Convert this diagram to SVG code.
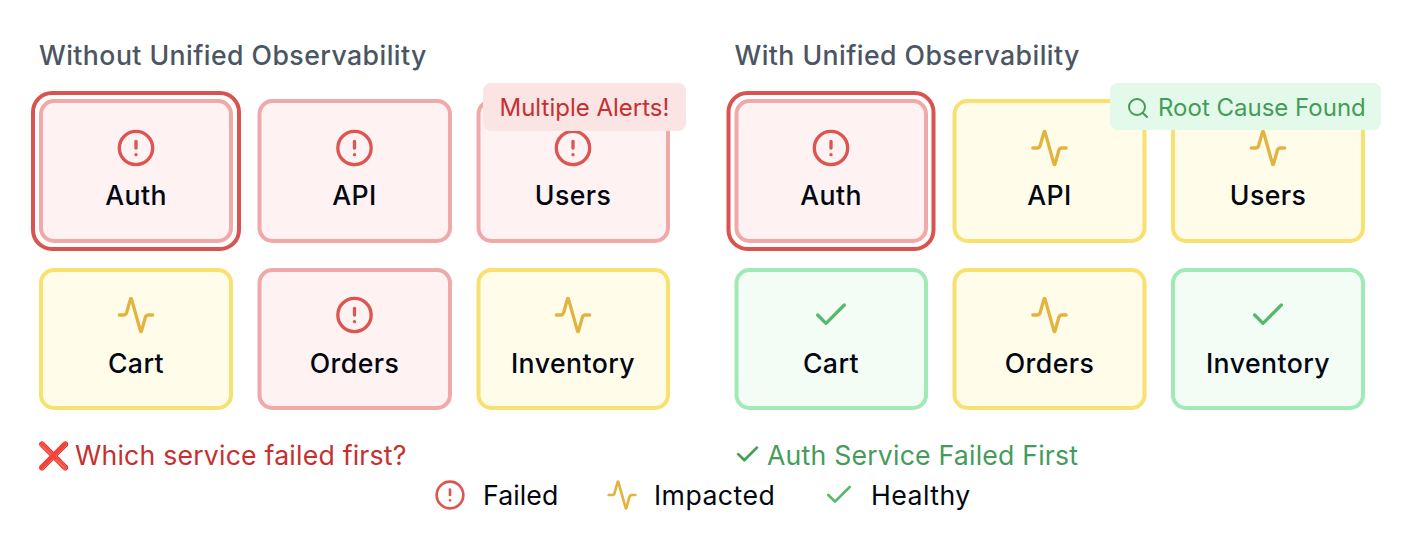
<svg xmlns="http://www.w3.org/2000/svg" width="1402" height="536" viewBox="0 0 1402 536">
<style>
text{font-family:Inter,"Liberation Sans",sans-serif}
.title{font-size:26.67px;font-weight:500;fill:#4b5563;letter-spacing:.44px}
.lbl{font-size:26.67px;font-weight:500;fill:#030712;text-anchor:middle;letter-spacing:.42px}
.leg{font-size:26.67px;font-weight:400;fill:#030712;letter-spacing:.45px}
.box{stroke-width:4}
.f{fill:#fef2f2;stroke:#efa9a9}
.i{fill:#fffdea;stroke:#f8e071}
.h{fill:#f3fdf6;stroke:#a0eab6}
.ring{fill:none;stroke:#d9534f;stroke-width:4}
.ic{fill:none;stroke-width:2;stroke-linecap:round;stroke-linejoin:round}
.ir{stroke:#dc5550}.iy{stroke:#e3b341}.ig{stroke:#56b96d}
.badge{font-size:24px}
.msg{font-size:26.67px;letter-spacing:.2px}
</style>
<defs>
<g id="alert"><circle r="10" class="ic ir"/><path class="ic ir" d="M0-4V0M0 4H.01"/></g>
<g id="act"><path class="ic iy" transform="translate(-12 -12)" d="M22 12h-2.48a2 2 0 0 0-1.93 1.46l-2.35 8.36a.25.25 0 0 1-.48 0L9.24 2.18a.25.25 0 0 0-.48 0l-2.35 8.36A2 2 0 0 1 4.49 12H2"/></g>
<g id="chk"><path class="ic ig" d="M8-6-3 5-8 0"/></g>
</defs>
<text class="title" x="39" y="64.500">Without Unified Observability</text>
<text class="title" x="734.500" y="64.500">With Unified Observability</text>
<g id="connectors"/>
<g id="left-auth"><rect class="ring" x="33" y="93" width="206" height="156" rx="19"/><rect class="box f" x="41" y="101" width="190" height="140" rx="13"/><use href="#alert" transform="translate(136 148) scale(1.667)"/><text class="lbl" x="136" y="205">Auth</text></g>
<g id="left-api"><rect class="box f" x="259.500" y="101" width="190.500" height="140" rx="13"/><use href="#alert" transform="translate(354.500 148) scale(1.667)"/><text class="lbl" x="354.500" y="205">API</text></g>
<g id="left-users"><rect class="box f" x="478.500" y="101" width="189.500" height="140" rx="13"/><use href="#alert" transform="translate(573 148) scale(1.667)"/><text class="lbl" x="573" y="205">Users</text></g>
<g id="left-cart"><rect class="box i" x="41" y="270" width="190" height="138" rx="13"/><use href="#act" transform="translate(136 315) scale(1.667)"/><text class="lbl" x="136" y="373">Cart</text></g>
<g id="left-orders"><rect class="box f" x="259.500" y="270" width="190.500" height="138" rx="13"/><use href="#alert" transform="translate(354.500 315) scale(1.667)"/><text class="lbl" x="354.500" y="373">Orders</text></g>
<g id="left-inventory"><rect class="box i" x="478.500" y="270" width="189.500" height="138" rx="13"/><use href="#act" transform="translate(573 315) scale(1.667)"/><text class="lbl" x="573" y="373">Inventory</text></g>
<g id="badge-alerts"><rect x="483" y="83" width="203" height="48" rx="8" fill="#fbe4e4"/><text class="badge" x="499.500" y="116" fill="#c53030">Multiple Alerts!</text></g>
<g id="right-auth"><rect class="ring" x="728.500" y="93" width="205" height="156" rx="19"/><rect class="box f" x="736.500" y="101" width="189.500" height="140" rx="13"/><use href="#alert" transform="translate(831 148) scale(1.667)"/><text class="lbl" x="831" y="205">Auth</text></g>
<g id="right-api"><rect class="box i" x="954.500" y="101" width="190" height="140" rx="13"/><use href="#act" transform="translate(1049.500 148) scale(1.667)"/><text class="lbl" x="1049.500" y="205">API</text></g>
<g id="right-users"><rect class="box i" x="1173" y="101" width="190" height="140" rx="13"/><use href="#act" transform="translate(1268 148) scale(1.667)"/><text class="lbl" x="1268" y="205">Users</text></g>
<g id="right-cart"><rect class="box h" x="736.500" y="270" width="189.500" height="138" rx="13"/><use href="#chk" transform="translate(831 315) scale(1.667)"/><text class="lbl" x="831" y="373">Cart</text></g>
<g id="right-orders"><rect class="box i" x="954.500" y="270" width="190" height="138" rx="13"/><use href="#act" transform="translate(1049.500 315) scale(1.667)"/><text class="lbl" x="1049.500" y="373">Orders</text></g>
<g id="right-inventory"><rect class="box h" x="1173" y="270" width="190" height="138" rx="13"/><use href="#chk" transform="translate(1268 315) scale(1.667)"/><text class="lbl" x="1268" y="373">Inventory</text></g>
<g id="badge-root"><rect x="1110" y="83" width="271" height="47" rx="8" fill="#e3f9e9"/><g fill="none" stroke="#459c5a" stroke-width="2" stroke-linecap="round"><circle cx="1137" cy="107" r="8"/><path d="M1147 117l-4.300-4.300"/></g><text class="badge" x="1158" y="116" fill="#459c5a">Root Cause Found</text></g>
<text class="msg" y="465" fill="#c53030"><tspan x="37">❌ </tspan><tspan x="75">Which service failed first?</tspan></text>
<text class="msg" y="465" fill="#459c5a"><tspan x="733" font-size="32">✓ </tspan><tspan x="767">Auth Service Failed First</tspan></text>
<g id="legend">
<use href="#alert" transform="translate(450 495) scale(1.333)"/><text class="leg" x="483" y="505" style="letter-spacing:.1px">Failed</text>
<use href="#act" transform="translate(622 495) scale(1.333)"/><text class="leg" x="654" y="505">Impacted</text>
<use href="#chk" transform="translate(839 495) scale(1.333)"/><text class="leg" x="871" y="505">Healthy</text>
</g>
</svg>
